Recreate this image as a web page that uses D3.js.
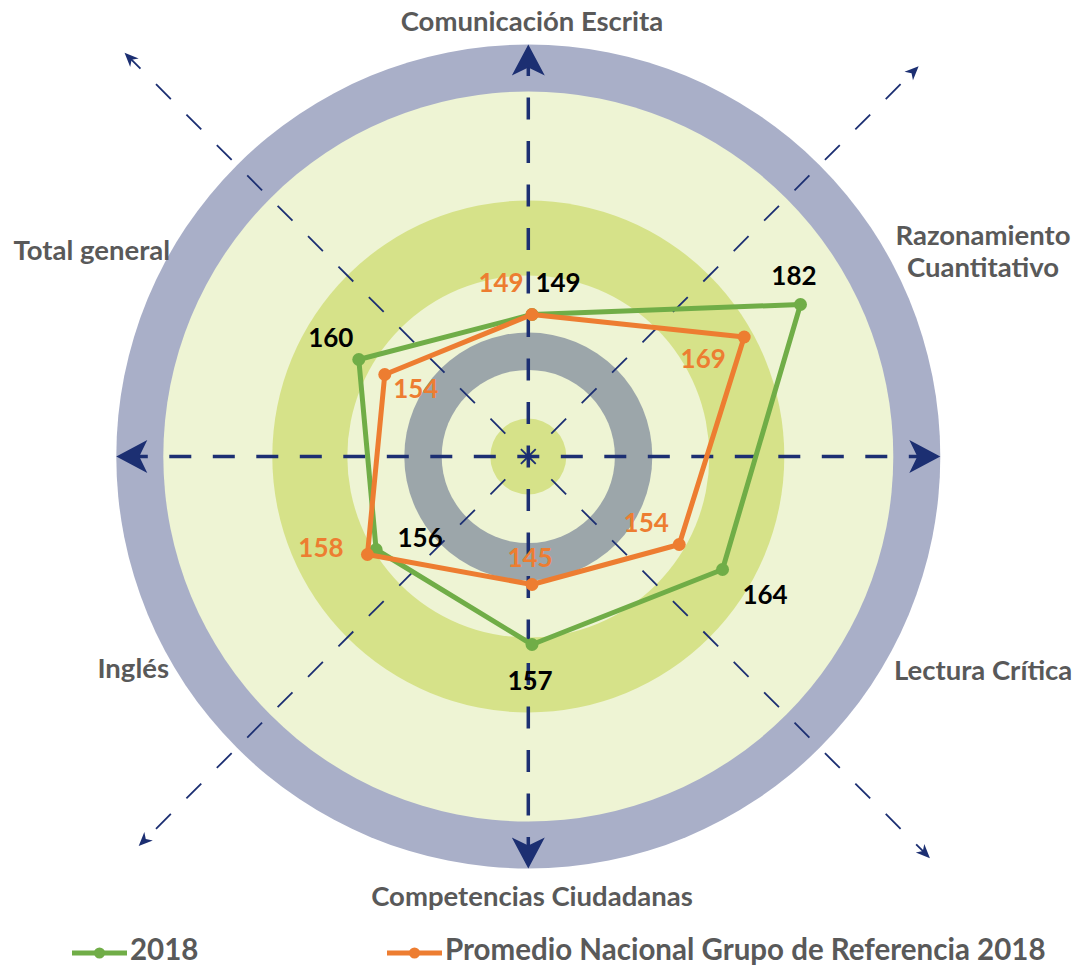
<!DOCTYPE html>
<html>
<head>
<meta charset="utf-8">
<script src="https://cdn.jsdelivr.net/npm/d3@7"></script>
<style>
  body { margin: 0; background: #fff; }
  svg { display: block; }
</style>
</head>
<body>
<div id="chart"></div>
<script>
// Data
const categories = ["Comunicación Escrita", "Razonamiento Cuantitativo", "Lectura Crítica",
  "Competencias Ciudadanas", "Inglés", "Total general"];
const values2018 = [149, 182, 164, 157, 156, 160];
const valuesPromedio = [149, 169, 154, 145, 158, 154];
const seriesNames = ["2018", "Promedio Nacional Grupo de Referencia 2018"];
const radialDomain = [120, 200];

// Layout
const width = 1074, height = 967;
const deco = { cx: 528.3, cy: 456.5 };       // background rings and arrows
const radar = { cx: 532, cy: 459.5 };        // data polygon
const navy = "#1c2f72";
const colors = { "2018": "#70ad47", "Promedio Nacional Grupo de Referencia 2018": "#ed7d31" };
const labelColor = { "2018": "#000", "Promedio Nacional Grupo de Referencia 2018": "#ed7d31" };
const fontFamily = "Lato, 'Open Sans', sans-serif";

// rings from outside in: [radius, fill]
const rings = [
  [412, "#a9afc8"], [365, "#eef4d4"], [256, "#d6e289"], [181, "#eef4d4"],
  [124, "#9ca6aa"], [86.6, "#eef4d4"], [38, "#d6e289"]
];

// category label placement (x, baseline, anchor)
const catLabels = [
  { lines: ["Comunicación Escrita"], x: 532, y: 31, anchor: "middle" },
  { lines: ["Razonamiento", "Cuantitativo"], x: 983, y: 245, anchor: "middle" },
  { lines: ["Lectura Crítica"], x: 894, y: 680, anchor: "start" },
  { lines: ["Competencias Ciudadanas"], x: 532, y: 906, anchor: "middle" },
  { lines: ["Inglés"], x: 169, y: 678, anchor: "end" },
  { lines: ["Total general"], x: 170, y: 260, anchor: "end" }
];

// value label offsets from each marker (dx to centre, dy to baseline)
const labelOffsets = {
  "2018": [[26, -22.5], [-6.5, -19.5], [42.5, 34.5], [-2, 45.5], [44, -2.5], [-28, -12.5]],
  "Promedio Nacional Grupo de Referencia 2018": [[-31, -22.5], [-41, 31], [-33, -12.5], [-2, -17.5], [-46.5, 2.5], [31, 23.5]]
};

const svg = d3.select("#chart").append("svg")
  .attr("width", width)
  .attr("height", height)
  .style("font-family", fontFamily);

// Background rings
const bg = svg.append("g").attr("transform", `translate(${deco.cx},${deco.cy})`);
bg.selectAll("circle")
  .data(rings)
  .join("circle")
    .attr("r", d => d[0])
    .attr("fill", d => d[1]);

// Decorative axes: 4 thick main directions, 4 thin diagonals (screen angle, length)
const mainDirs = [0, 90, 180, 270];
const diagDirs = [[45, 568], [135, 551], [225, 571], [315, 552]];

const axes = svg.append("g").attr("transform", `translate(${deco.cx},${deco.cy})`);

axes.selectAll("line.main")
  .data(mainDirs)
  .join("line")
    .attr("class", "main")
    .attr("x1", 0).attr("y1", 0)
    .attr("x2", d => 395 * Math.cos(d * Math.PI / 180))
    .attr("y2", d => 395 * Math.sin(d * Math.PI / 180))
    .attr("stroke", navy)
    .attr("stroke-width", 3.5)
    .attr("stroke-dasharray", "22 21.5")
    .attr("stroke-dashoffset", 11);

axes.selectAll("path.bigArrow")
  .data(mainDirs)
  .join("path")
    .attr("class", "bigArrow")
    .attr("d", "M0,0 L-31,-16.5 L-23,0 L-31,16.5 Z")
    .attr("fill", navy)
    .attr("transform", d => `rotate(${d}) translate(412,0)`);

axes.selectAll("line.diag")
  .data(diagDirs)
  .join("line")
    .attr("class", "diag")
    .attr("x1", 0).attr("y1", 0)
    .attr("x2", d => (d[1] - 8) * Math.cos(d[0] * Math.PI / 180))
    .attr("y2", d => (d[1] - 8) * Math.sin(d[0] * Math.PI / 180))
    .attr("stroke", navy)
    .attr("stroke-width", 1.8)
    .attr("stroke-dasharray", "21 22")
    .attr("stroke-dashoffset", 10.5);

axes.selectAll("path.smallArrow")
  .data(diagDirs)
  .join("path")
    .attr("class", "smallArrow")
    .attr("d", "M0,0 L-14,-6 L-10,0 L-14,6 Z")
    .attr("fill", navy)
    .attr("transform", d => `rotate(${d[0]}) translate(${d[1]},0)`);

// Radar scales
const r = d3.scaleLinear().domain(radialDomain).range([0, 400]);
const angle = d3.scaleLinear().domain([0, categories.length]).range([0, 2 * Math.PI]);

const series = [
  { name: seriesNames[0], values: values2018 },
  { name: seriesNames[1], values: valuesPromedio }
];

const line = d3.lineRadial()
  .angle((d, i) => angle(i))
  .radius(d => r(d))
  .curve(d3.curveLinearClosed);

const plot = svg.append("g").attr("transform", `translate(${radar.cx},${radar.cy})`);

const sg = plot.selectAll("g.series")
  .data(series)
  .join("g")
    .attr("class", "series");

sg.append("path")
  .attr("d", d => line(d.values))
  .attr("fill", "none")
  .attr("stroke", d => colors[d.name])
  .attr("stroke-width", 5)
  .attr("stroke-linejoin", "round");

sg.selectAll("circle")
  .data(d => d.values.map((v, i) => ({ name: d.name, v, i })))
  .join("circle")
    .attr("cx", d => d3.pointRadial(angle(d.i), r(d.v))[0])
    .attr("cy", d => d3.pointRadial(angle(d.i), r(d.v))[1])
    .attr("r", 6.5)
    .attr("fill", d => colors[d.name]);

// value labels
const vl = plot.append("g");
series.forEach(s => {
  vl.selectAll(null)
    .data(s.values.map((v, i) => ({ v, i })))
    .join("text")
      .attr("x", d => d3.pointRadial(angle(d.i), r(d.v))[0] + labelOffsets[s.name][d.i][0])
      .attr("y", d => d3.pointRadial(angle(d.i), r(d.v))[1] + labelOffsets[s.name][d.i][1])
      .attr("text-anchor", "middle")
      .attr("font-size", 26)
      .attr("font-weight", "bold")
      .attr("fill", labelColor[s.name])
      .text(d => d.v);
});

// category labels
svg.append("g").selectAll("text")
  .data(catLabels)
  .join("text")
    .attr("x", d => d.x)
    .attr("y", d => d.y)
    .attr("text-anchor", d => d.anchor)
    .attr("font-size", 27.5)
    .attr("font-weight", "bold")
    .attr("fill", "#595959")
    .selectAll("tspan")
    .data(d => d.lines.map((t, k) => ({ t, k, x: d.x })))
    .join("tspan")
      .attr("x", d => d.x)
      .attr("dy", d => d.k === 0 ? 0 : 32)
      .text(d => d.t);

// legend
const legendItems = [
  { name: seriesNames[0], x: 72 },
  { name: seriesNames[1], x: 387 }
];
const lg = svg.append("g").selectAll("g")
  .data(legendItems)
  .join("g")
    .attr("transform", d => `translate(${d.x},953)`);
lg.append("line")
  .attr("x1", 0).attr("x2", 55)
  .attr("stroke", d => colors[d.name])
  .attr("stroke-width", 5);
lg.append("circle")
  .attr("cx", 27.5)
  .attr("r", 5.5)
  .attr("fill", d => colors[d.name]);
lg.append("text")
  .attr("x", 58)
  .attr("y", 7)
  .attr("font-size", 29.5)
  .attr("font-weight", "bold")
  .attr("fill", "#595959")
  .text(d => d.name);
</script>
</body>
</html>
